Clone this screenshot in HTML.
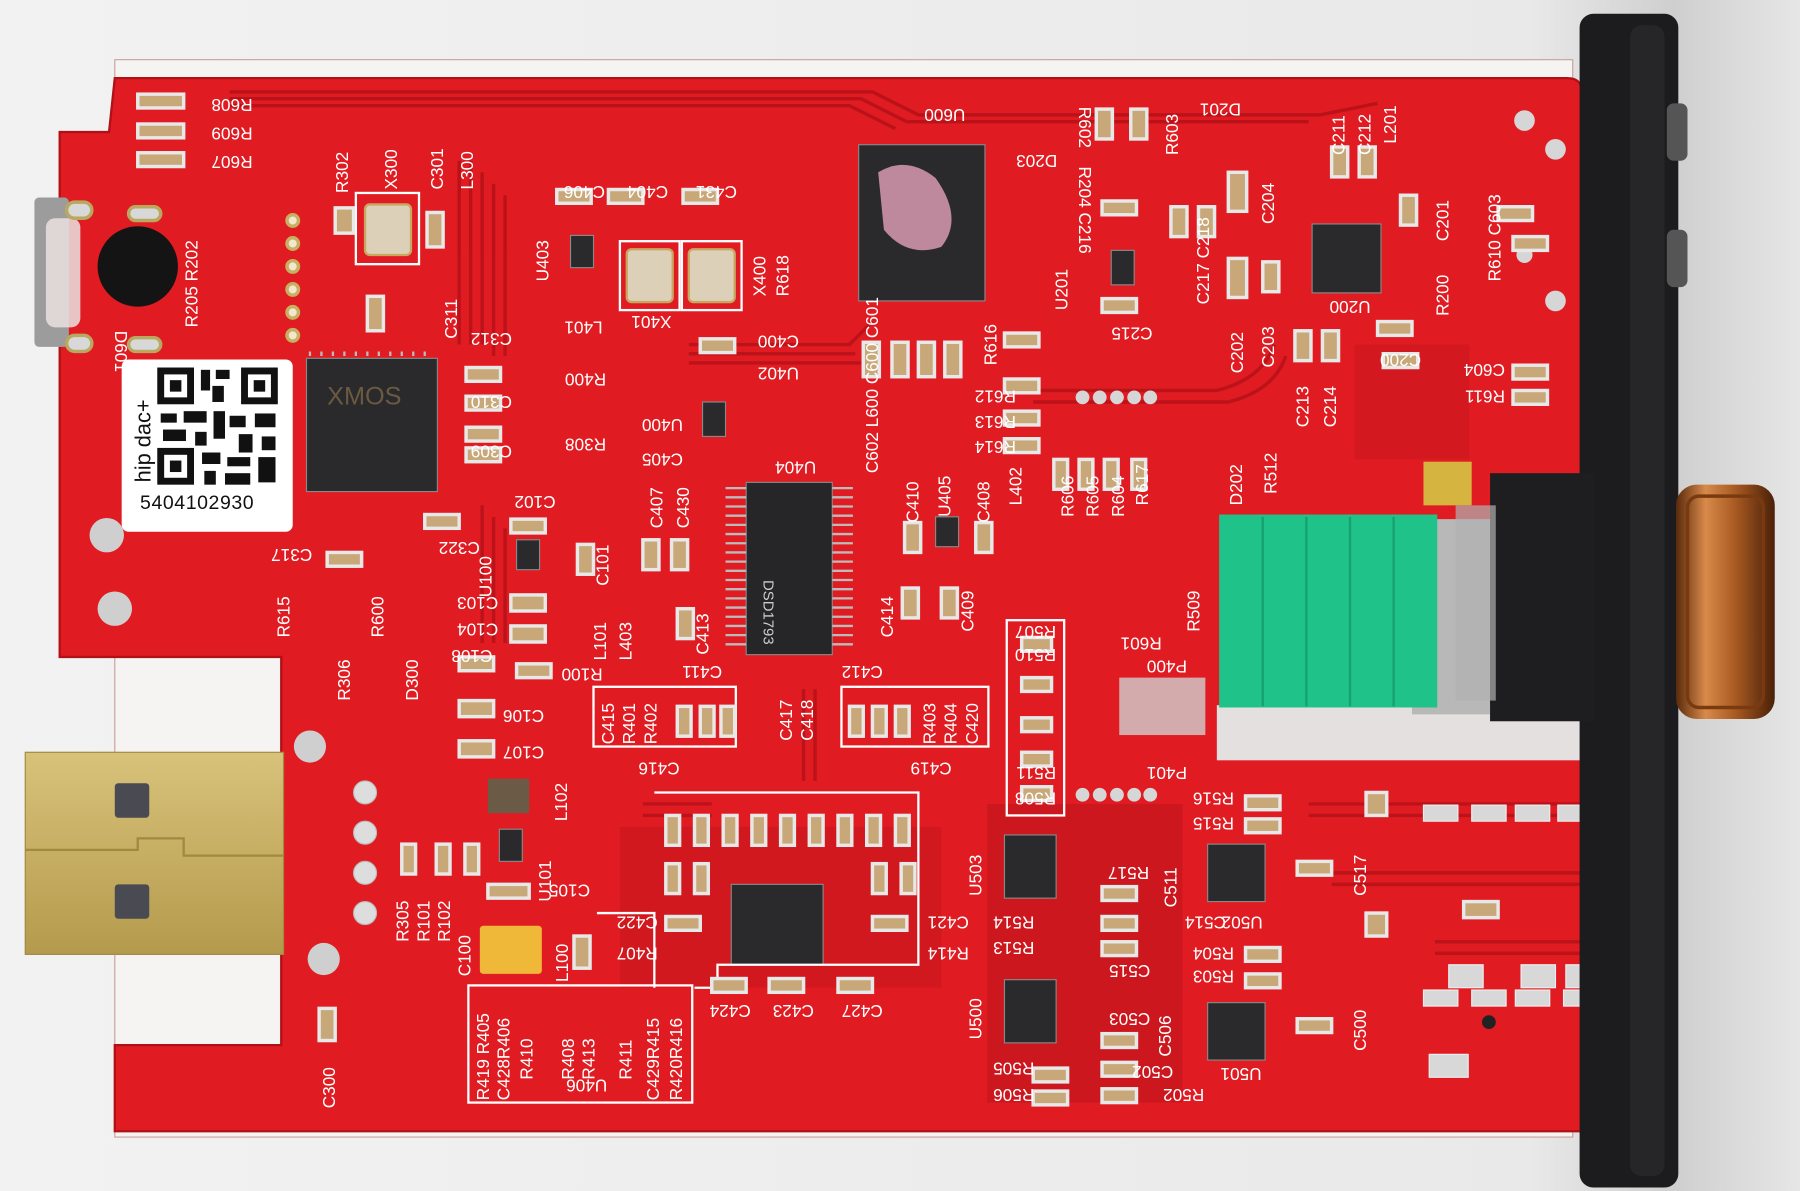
<!DOCTYPE html>
<html><head><meta charset="utf-8"><style>
html,body{margin:0;padding:0;background:#ececec;overflow:hidden}
svg{display:block}
text{font-family:"Liberation Sans",sans-serif;fill:#fff;font-size:15px}
</style></head><body>
<svg width="1800" height="1191" viewBox="0 0 1568 1037" preserveAspectRatio="none" xmlns="http://www.w3.org/2000/svg">
<defs>
<linearGradient id="bg" x1="0" x2="1"><stop offset="0" stop-color="#f2f2f2"/><stop offset="0.85" stop-color="#e9e9e9"/><stop offset="0.93" stop-color="#cfcfcf"/><stop offset="1" stop-color="#e6e6e6"/></linearGradient>
<linearGradient id="cu" x1="0" x2="1"><stop offset="0" stop-color="#5a2a0c"/><stop offset="0.3" stop-color="#d88a4a"/><stop offset="0.6" stop-color="#a85a22"/><stop offset="1" stop-color="#4a2008"/></linearGradient>
<linearGradient id="gold" x1="0" y1="0" x2="0" y2="1"><stop offset="0" stop-color="#d8c27a"/><stop offset="1" stop-color="#b49a4c"/></linearGradient>
</defs>
<rect width="1568" height="1037" fill="url(#bg)"/>
<!-- board base white edge -->
<path d="M100 52 H1370 V990 H100 Z" fill="#f6f4f2" stroke="#c9a09a"/>
<!-- red board -->
<path d="M100 68 H1365 Q1378 68 1378 80 V985 H1370 V975 H100 V910 H245 V572 H52 V115 H95 Z" fill="#dc1a20"/>
<path d="M100 68 H1365 Q1378 68 1378 80 V985 H100 V910 H245 V572 H52 V115 H95 Z" fill="#e01c22" stroke="#b01016" stroke-width="2"/>
<!-- dark trace regions -->
<g fill="none" stroke="#b8121a" stroke-width="3" opacity="0.9">
<path d="M200 80 H760 L800 100 H1150 L1200 90"/><path d="M200 86 H750 L790 106 H1140"/><path d="M200 92 H740 L780 112"/>
<path d="M400 140 V300 M410 140 V300 M420 150 V300 M430 160 V310 M440 170 V310"/>
<path d="M600 300 H740 L760 280 M600 308 H745 M600 316 H750"/>
<path d="M1110 300 Q1100 330 1060 340 H900 M1120 310 Q1110 340 1070 350 H900"/>
<path d="M1140 700 H1380 M1140 710 H1380 M1160 760 H1380 M1160 770 H1380 M1250 820 H1380 M1250 830 H1380"/>
<path d="M420 440 V560 M430 450 V560 M440 460 V560"/>
<path d="M700 600 V680 M710 600 V680 M560 700 H620 M560 710 H620"/>
</g>
<path d="M540 720 H820 V860 H540Z" fill="#c4141b" opacity="0.5"/>
<path d="M860 700 H1030 V960 H860Z" fill="#b5121a" opacity="0.45"/>
<path d="M1180 300 H1280 V400 H1180Z" fill="#c4141b" opacity="0.4"/>
<!-- USB-C at left -->
<rect x="30" y="172" width="30" height="130" rx="4" fill="#9c9c9c"/>
<rect x="40" y="190" width="30" height="95" rx="8" fill="#eae2e0" opacity="0.85"/>
<circle cx="120" cy="232" r="35" fill="#141414"/>
<!-- holes -->
<g fill="#d8d8d8" stroke="#b8a860" stroke-width="3">
<rect x="58" y="176" width="22" height="14" rx="7"/><rect x="58" y="292" width="22" height="14" rx="7"/>
<rect x="112" y="180" width="28" height="12" rx="6"/><rect x="112" y="294" width="28" height="12" rx="6"/>
</g>
<g fill="#cfcfcf"><circle cx="93" cy="466" r="15"/><circle cx="100" cy="530" r="15"/><circle cx="270" cy="650" r="14"/><circle cx="282" cy="835" r="14"/></g>
<g fill="#ddd" stroke="#bbb"><circle cx="318" cy="690" r="10"/><circle cx="318" cy="725" r="10"/><circle cx="318" cy="760" r="10"/><circle cx="318" cy="795" r="10"/></g>
<g fill="#f0e8d0" stroke="#c8b060" stroke-width="3"><circle cx="255" cy="192" r="5"/><circle cx="255" cy="212" r="5"/><circle cx="255" cy="232" r="5"/><circle cx="255" cy="252" r="5"/><circle cx="255" cy="272" r="5"/><circle cx="255" cy="292" r="5"/></g>
<g fill="#d6d6d6"><circle cx="1328" cy="105" r="9"/><circle cx="1355" cy="130" r="9"/><circle cx="1328" cy="222" r="7"/><circle cx="1355" cy="262" r="9"/><circle cx="943" cy="346" r="6"/><circle cx="958" cy="346" r="6"/><circle cx="973" cy="346" r="6"/><circle cx="988" cy="346" r="6"/><circle cx="1002" cy="346" r="6"/>
<circle cx="943" cy="692" r="6"/><circle cx="958" cy="692" r="6"/><circle cx="973" cy="692" r="6"/><circle cx="988" cy="692" r="6"/><circle cx="1002" cy="692" r="6"/></g>
<!-- USB-A -->
<rect x="22" y="655" width="225" height="176" fill="url(#gold)" stroke="#a08a40"/>
<path d="M22 740 H120 V730 H160 V745 H247" stroke="#a08a40" fill="none" stroke-width="2"/>
<rect x="100" y="682" width="30" height="30" rx="3" fill="#4a4a52"/><rect x="100" y="770" width="30" height="30" rx="3" fill="#4a4a52"/>
<!-- QR label -->
<rect x="106" y="313" width="149" height="150" rx="6" fill="#fff"/>
<g fill="#111">
<rect x="137" y="320" width="32" height="32"/><rect x="143" y="326" width="20" height="20" fill="#fff"/><rect x="148" y="331" width="10" height="10"/>
<rect x="210" y="320" width="32" height="32"/><rect x="216" y="326" width="20" height="20" fill="#fff"/><rect x="221" y="331" width="10" height="10"/>
<rect x="137" y="390" width="32" height="32"/><rect x="143" y="396" width="20" height="20" fill="#fff"/><rect x="148" y="401" width="10" height="10"/>
<rect x="175" y="322" width="8" height="18"/><rect x="188" y="322" width="12" height="8"/><rect x="185" y="336" width="10" height="14"/>
<rect x="140" y="360" width="14" height="8"/><rect x="160" y="358" width="20" height="10"/><rect x="186" y="358" width="10" height="24"/><rect x="200" y="362" width="14" height="10"/><rect x="222" y="360" width="18" height="12"/>
<rect x="142" y="374" width="20" height="10"/><rect x="170" y="376" width="10" height="12"/><rect x="208" y="378" width="12" height="16"/><rect x="228" y="380" width="12" height="12"/>
<rect x="176" y="394" width="16" height="10"/><rect x="198" y="398" width="20" height="8"/><rect x="225" y="398" width="15" height="22"/><rect x="178" y="410" width="10" height="12"/><rect x="196" y="412" width="22" height="10"/>
</g>
<text x="0" y="0" transform="translate(131 420) rotate(-90)" style="fill:#111;font-size:19px">hip dac+</text>
<text x="122" y="443" style="fill:#111;font-size:17px;letter-spacing:0.5px">5404102930</text>
<!-- chips -->
<g fill="#2a2a2c" stroke="#888" stroke-width="1">
<rect x="267" y="312" width="114" height="116"/>
<rect x="748" y="126" width="110" height="136"/>
<rect x="650" y="420" width="75" height="150" fill="#262628"/>
<rect x="637" y="770" width="80" height="70"/>
<rect x="1143" y="195" width="60" height="60"/>
<rect x="875" y="727" width="45" height="55"/><rect x="875" y="853" width="45" height="55"/>
<rect x="1052" y="735" width="50" height="50"/><rect x="1052" y="873" width="50" height="50"/>
<rect x="497" y="205" width="20" height="28"/><rect x="450" y="470" width="20" height="26"/><rect x="612" y="350" width="20" height="30"/><rect x="435" y="722" width="20" height="28"/>
<rect x="968" y="218" width="20" height="30"/><rect x="815" y="450" width="20" height="26"/>
</g>
<g stroke="#bbb" stroke-width="2">
<path d="M270 310 V306 M280 310 V306 M290 310 V306 M300 310 V306 M310 310 V306 M320 310 V306 M330 310 V306 M340 310 V306 M350 310 V306 M360 310 V306 M370 310 V306"/>
<path d="M632 425 H650 M632 433 H650 M632 441 H650 M632 449 H650 M632 457 H650 M632 465 H650 M632 473 H650 M632 481 H650 M632 489 H650 M632 497 H650 M632 505 H650 M632 513 H650 M632 521 H650 M632 529 H650 M632 537 H650 M632 545 H650 M632 553 H650 M632 561 H650"/>
<path d="M725 425 H743 M725 433 H743 M725 441 H743 M725 449 H743 M725 457 H743 M725 465 H743 M725 473 H743 M725 481 H743 M725 489 H743 M725 497 H743 M725 505 H743 M725 513 H743 M725 521 H743 M725 529 H743 M725 537 H743 M725 545 H743 M725 553 H743 M725 561 H743"/>
</g>
<path d="M765 150 Q790 135 815 155 Q840 190 820 215 Q790 225 770 200 Z" fill="#d89ab0" opacity="0.85"/>
<text x="285" y="352" style="fill:#6a5a40;font-size:22px">XMOS</text>
<text x="665" y="505" transform="rotate(90 665 505)" style="fill:#ccc;font-size:13px">DSD1793</text>
<!-- crystals -->
<rect x="310" y="168" width="55" height="62" fill="none" stroke="#fff" stroke-width="2"/><rect x="318" y="178" width="40" height="44" rx="4" fill="#ddd0b8" stroke="#c8a860" stroke-width="2"/>
<rect x="540" y="210" width="52" height="60" fill="none" stroke="#fff" stroke-width="2"/><rect x="546" y="217" width="40" height="46" rx="4" fill="#ddd0b8" stroke="#c8a860" stroke-width="2"/>
<rect x="594" y="210" width="52" height="60" fill="none" stroke="#fff" stroke-width="2"/><rect x="600" y="217" width="40" height="46" rx="4" fill="#ddd0b8" stroke="#c8a860" stroke-width="2"/>
<!-- silkscreen boxes -->
<g fill="none" stroke="#fff" stroke-width="2">
<rect x="517" y="598" width="124" height="52"/><rect x="733" y="598" width="128" height="52"/><rect x="877" y="540" width="50" height="170"/>
<path d="M570 690 H800 V840 H625 V860 H605 V860"/><rect x="408" y="858" width="195" height="102"/><path d="M520 795 H570 V860"/>
</g>
<!-- passives: generic tan caps -->
<g fill="#c8a878" stroke="#e8e8e8" stroke-width="3">
<rect x="292" y="181" width="16" height="22"/><rect x="372" y="185" width="14" height="30"/><rect x="320" y="258" width="14" height="30"/>
<rect x="406" y="320" width="30" height="12"/><rect x="406" y="345" width="30" height="12"/><rect x="406" y="372" width="30" height="12"/><rect x="406" y="390" width="30" height="12"/>
<rect x="370" y="448" width="30" height="12"/><rect x="445" y="452" width="30" height="12"/><rect x="285" y="481" width="30" height="12"/>
<rect x="485" y="165" width="30" height="12"/><rect x="530" y="165" width="30" height="12"/><rect x="595" y="165" width="30" height="12"/>
<rect x="610" y="295" width="30" height="12"/><rect x="1070" y="150" width="16" height="34"/><rect x="1070" y="225" width="16" height="34"/><rect x="1100" y="228" width="14" height="26"/>
<rect x="1160" y="128" width="14" height="26"/><rect x="1184" y="128" width="14" height="26"/><rect x="1220" y="170" width="14" height="26"/>
<rect x="1128" y="288" width="14" height="26"/><rect x="1152" y="288" width="14" height="26"/><rect x="1020" y="180" width="14" height="26"/><rect x="1044" y="180" width="14" height="26"/>
<rect x="752" y="298" width="14" height="30"/><rect x="777" y="298" width="14" height="30"/><rect x="800" y="298" width="14" height="30"/><rect x="823" y="298" width="14" height="30"/>
<rect x="788" y="455" width="14" height="26"/><rect x="850" y="455" width="14" height="26"/><rect x="786" y="512" width="14" height="26"/><rect x="820" y="512" width="14" height="26"/>
<rect x="560" y="470" width="14" height="26"/><rect x="585" y="470" width="14" height="26"/><rect x="503" y="474" width="14" height="26"/><rect x="590" y="530" width="14" height="26"/>
<rect x="445" y="518" width="30" height="14"/><rect x="445" y="545" width="30" height="14"/><rect x="400" y="610" width="30" height="14"/><rect x="400" y="645" width="30" height="14"/>
<rect x="400" y="572" width="30" height="12"/><rect x="450" y="578" width="30" height="12"/>
<rect x="1275" y="785" width="30" height="14"/><rect x="1190" y="690" width="18" height="20"/><rect x="1190" y="795" width="18" height="20"/><rect x="1130" y="750" width="30" height="12"/><rect x="1130" y="887" width="30" height="12"/>
<rect x="1305" y="180" width="30" height="12"/><rect x="1318" y="318" width="30" height="12"/><rect x="1318" y="340" width="30" height="12"/><rect x="1318" y="206" width="30" height="12"/>
<rect x="1200" y="280" width="30" height="12"/><rect x="1205" y="308" width="30" height="12"/>
<rect x="590" y="615" width="12" height="26"/><rect x="610" y="615" width="12" height="26"/><rect x="628" y="615" width="12" height="26"/>
<rect x="740" y="615" width="12" height="26"/><rect x="760" y="615" width="12" height="26"/><rect x="780" y="615" width="12" height="26"/>
<rect x="890" y="555" width="26" height="12"/><rect x="890" y="590" width="26" height="12"/><rect x="890" y="625" width="26" height="12"/><rect x="890" y="655" width="26" height="12"/><rect x="890" y="685" width="26" height="12"/>
<rect x="918" y="400" width="12" height="26"/><rect x="940" y="400" width="12" height="26"/><rect x="962" y="400" width="12" height="26"/><rect x="986" y="400" width="12" height="26"/>
<rect x="875" y="290" width="30" height="12"/><rect x="875" y="330" width="30" height="12"/><rect x="875" y="358" width="30" height="12"/><rect x="875" y="382" width="30" height="12"/>
<rect x="960" y="260" width="30" height="12"/><rect x="960" y="175" width="30" height="12"/><rect x="955" y="95" width="14" height="26"/><rect x="985" y="95" width="14" height="26"/>
<rect x="580" y="710" width="12" height="26"/><rect x="605" y="710" width="12" height="26"/><rect x="630" y="710" width="12" height="26"/><rect x="655" y="710" width="12" height="26"/><rect x="680" y="710" width="12" height="26"/><rect x="705" y="710" width="12" height="26"/><rect x="730" y="710" width="12" height="26"/><rect x="755" y="710" width="12" height="26"/><rect x="780" y="710" width="12" height="26"/>
<rect x="580" y="752" width="12" height="26"/><rect x="605" y="752" width="12" height="26"/><rect x="760" y="752" width="12" height="26"/><rect x="785" y="752" width="12" height="26"/>
<rect x="580" y="798" width="30" height="12"/><rect x="760" y="798" width="30" height="12"/><rect x="620" y="852" width="30" height="12"/><rect x="670" y="852" width="30" height="12"/><rect x="730" y="852" width="30" height="12"/>
<rect x="960" y="772" width="30" height="12"/><rect x="960" y="798" width="30" height="12"/><rect x="960" y="820" width="30" height="12"/><rect x="960" y="900" width="30" height="12"/><rect x="960" y="925" width="30" height="12"/><rect x="960" y="948" width="30" height="12"/>
<rect x="1085" y="693" width="30" height="12"/><rect x="1085" y="713" width="30" height="12"/><rect x="1085" y="825" width="30" height="12"/><rect x="1085" y="848" width="30" height="12"/>
<rect x="900" y="930" width="30" height="12"/><rect x="900" y="950" width="30" height="12"/><rect x="350" y="735" width="12" height="26"/><rect x="380" y="735" width="12" height="26"/><rect x="405" y="735" width="12" height="26"/>
<rect x="120" y="82" width="40" height="12"/><rect x="120" y="108" width="40" height="12"/><rect x="120" y="133" width="40" height="12"/>
<rect x="425" y="770" width="36" height="12"/><rect x="500" y="815" width="14" height="28"/><rect x="278" y="878" width="14" height="28"/>
</g>
<rect x="425" y="678" width="36" height="30" fill="#6a5a46"/>
<rect x="418" y="806" width="54" height="42" rx="3" fill="#f0b838"/>
<!-- pads right-bottom -->
<g fill="#d8d8d8" stroke="#eee"><rect x="1282" y="701" width="30" height="14"/><rect x="1320" y="701" width="30" height="14"/><rect x="1240" y="701" width="30" height="14"/><rect x="1357" y="701" width="20" height="14"/>
<rect x="1240" y="862" width="30" height="14"/><rect x="1282" y="862" width="30" height="14"/><rect x="1320" y="862" width="30" height="14"/><rect x="1362" y="862" width="16" height="14"/>
<rect x="1262" y="840" width="30" height="20"/><rect x="1325" y="840" width="30" height="20"/><rect x="1364" y="840" width="14" height="20"/><rect x="1245" y="918" width="34" height="20"/></g>
<circle cx="1297" cy="890" r="6" fill="#222"/>
<!-- gold pad -->
<rect x="1240" y="402" width="42" height="38" fill="#d6b440"/>
<!-- lower cutout window -->
<rect x="1060" y="614" width="322" height="48" fill="#e4e0e0"/>
<!-- green block -->
<rect x="1230" y="452" width="68" height="170" fill="#b8b8b8"/>
<rect x="1062" y="448" width="190" height="168" fill="#1fc288"/>
<g stroke="#17a070" stroke-width="2"><path d="M1100 450 V615 M1138 450 V615 M1176 450 V615 M1214 450 V615"/></g>
<!-- header pins -->
<g fill="#d0d0d0"><rect x="975" y="590" width="75" height="50" opacity="0.8"/></g>
<!-- bracket -->
<rect x="1376" y="12" width="86" height="1022" rx="12" fill="#1c1c1e"/>
<rect x="1420" y="22" width="30" height="1002" rx="10" fill="#262628"/>
<rect x="1298" y="412" width="92" height="216" fill="#1e1e20"/>
<rect x="1268" y="440" width="35" height="170" fill="#b0b0b0" opacity="0.7"/>
<rect x="1452" y="90" width="18" height="50" rx="6" fill="#555"/><rect x="1452" y="200" width="18" height="50" rx="6" fill="#555"/>
<!-- knob -->
<rect x="1460" y="422" width="86" height="204" rx="18" fill="url(#cu)"/>
<rect x="1470" y="432" width="66" height="184" rx="10" fill="none" stroke="#7a3a10" stroke-width="3"/>
<!-- labels upright -->
<g style="font-size:15px">
<text x="172" y="96" transform="rotate(180 196 91)">R608</text>
<text x="172" y="121" transform="rotate(180 196 116)">R609</text>
<text x="172" y="146" transform="rotate(180 196 141)">R607</text>
<text transform="translate(303 168) rotate(-90)">R302</text>
<text transform="translate(346 165) rotate(-90)">X300</text>
<text transform="translate(386 165) rotate(-90)">C301</text>
<text transform="translate(412 165) rotate(-90)">L300</text>
<text transform="translate(398 295) rotate(-90)">C311</text>
<text transform="translate(172 285) rotate(-90)">R205 R202</text>
<text transform="translate(100 288) rotate(90)">D601</text>
<text x="400" y="300" transform="rotate(180 423 295)">C312</text>
<text x="400" y="355" transform="rotate(180 423 350)">C310</text>
<text x="400" y="398" transform="rotate(180 423 393)">C309</text>
<text x="482" y="335" transform="rotate(180 505 330)">R400</text>
<text x="482" y="392" transform="rotate(180 505 387)">R308</text>
<text x="440" y="442" transform="rotate(180 462 437)">C102</text>
<text x="368" y="482" transform="rotate(180 393 477)">C322</text>
<text x="228" y="488" transform="rotate(180 250 483)">C317</text>
<text x="483" y="172" transform="rotate(180 505 167)">C406</text>
<text x="542" y="172" transform="rotate(180 562 167)">C404</text>
<text x="602" y="172" transform="rotate(180 622 167)">C431</text>
<text transform="translate(478 245) rotate(-90)">U403</text>
<text x="485" y="290" transform="rotate(180 505 285)">L401</text>
<text x="545" y="285" transform="rotate(180 565 280)">X401</text>
<text transform="translate(667 258) rotate(-90)">X400</text>
<text transform="translate(687 258) rotate(-90)">R618</text>
<text x="650" y="302" transform="rotate(180 673 297)">C400</text>
<text x="650" y="330" transform="rotate(180 673 325)">U402</text>
<text x="545" y="375" transform="rotate(180 570 370)">U400</text>
<text x="545" y="405" transform="rotate(180 570 400)">C405</text>
<text x="665" y="412" transform="rotate(180 688 407)">U404</text>
<text x="795" y="105" transform="rotate(180 818 100)">U600</text>
<text x="875" y="145" transform="rotate(180 898 140)">D203</text>
<text transform="translate(940 93) rotate(90)">R602</text>
<text transform="translate(940 145) rotate(90)">R204 C216</text>
<text transform="translate(930 270) rotate(-90)">U201</text>
<text transform="translate(1026 135) rotate(-90)">R603</text>
<text x="1045" y="100" transform="rotate(180 1063 95)">D201</text>
<text transform="translate(1110 195) rotate(-90)">C204</text>
<text transform="translate(1053 265) rotate(-90)">C217 C218</text>
<text x="960" y="295" transform="rotate(180 982 290)">C215</text>
<text transform="translate(1171 135) rotate(-90)">C211</text>
<text transform="translate(1194 135) rotate(-90)">C212</text>
<text transform="translate(1216 125) rotate(-90)">L201</text>
<text transform="translate(1262 210) rotate(-90)">C201</text>
<text transform="translate(1262 275) rotate(-90)">R200</text>
<text x="1150" y="272" transform="rotate(180 1172 267)">U200</text>
<text x="1192" y="318" transform="rotate(180 1215 313)">C200</text>
<text transform="translate(1307 245) rotate(-90)">R610 C603</text>
<text x="1265" y="327" transform="rotate(180 1288 322)">C604</text>
<text x="1265" y="350" transform="rotate(180 1288 345)">R611</text>
<text transform="translate(1083 325) rotate(-90)">C202</text>
<text transform="translate(1110 320) rotate(-90)">C203</text>
<text transform="translate(1140 372) rotate(-90)">C213</text>
<text transform="translate(1164 372) rotate(-90)">C214</text>
<text transform="translate(1082 440) rotate(-90)">D202</text>
<text transform="translate(1112 430) rotate(-90)">R512</text>
<text transform="translate(868 318) rotate(-90)">R616</text>
<text x="845" y="350" transform="rotate(180 865 345)">R612</text>
<text x="845" y="372" transform="rotate(180 865 367)">R613</text>
<text x="845" y="394" transform="rotate(180 865 389)">R614</text>
<text transform="translate(765 412) rotate(-90)">C602 L600 C600 C601</text>
<text transform="translate(935 450) rotate(-90)">R606</text>
<text transform="translate(957 450) rotate(-90)">R605</text>
<text transform="translate(979 450) rotate(-90)">R604</text>
<text transform="translate(1000 440) rotate(-90)">R617</text>
<text transform="translate(800 455) rotate(-90)">C410</text>
<text transform="translate(828 450) rotate(-90)">U405</text>
<text transform="translate(862 455) rotate(-90)">C408</text>
<text transform="translate(890 440) rotate(-90)">L402</text>
<text transform="translate(577 460) rotate(-90)">C407</text>
<text transform="translate(600 460) rotate(-90)">C430</text>
<text transform="translate(530 510) rotate(-90)">C101</text>
<text transform="translate(428 520) rotate(-90)">U100</text>
<text transform="translate(252 555) rotate(-90)">R615</text>
<text transform="translate(334 555) rotate(-90)">R600</text>
<text transform="translate(305 610) rotate(-90)">R306</text>
<text transform="translate(364 610) rotate(-90)">D300</text>
<text x="390" y="530" transform="rotate(180 412 525)">C103</text>
<text x="390" y="553" transform="rotate(180 412 548)">C104</text>
<text x="385" y="576" transform="rotate(180 407 571)">C108</text>
<text x="485" y="592" transform="rotate(180 505 587)">R100</text>
<text transform="translate(528 575) rotate(-90)">L101</text>
<text transform="translate(550 575) rotate(-90)">L403</text>
<text transform="translate(617 570) rotate(-90)">C413</text>
<text x="585" y="590" transform="rotate(180 607 585)">C411</text>
<text x="725" y="590" transform="rotate(180 747 585)">C412</text>
<text transform="translate(778 555) rotate(-90)">C414</text>
<text transform="translate(848 550) rotate(-90)">C409</text>
<text transform="translate(535 648) rotate(-90)">C415</text>
<text transform="translate(553 648) rotate(-90)">R401</text>
<text transform="translate(572 648) rotate(-90)">R402</text>
<text transform="translate(690 645) rotate(-90)">C417</text>
<text transform="translate(708 645) rotate(-90)">C418</text>
<text transform="translate(815 648) rotate(-90)">R403</text>
<text transform="translate(833 648) rotate(-90)">R404</text>
<text transform="translate(852 648) rotate(-90)">C420</text>
<text x="548" y="674" transform="rotate(180 570 669)">C416</text>
<text x="785" y="674" transform="rotate(180 807 669)">C419</text>
<text x="880" y="555" transform="rotate(180 900 550)">R507</text>
<text x="880" y="575" transform="rotate(180 900 570)">R510</text>
<text x="880" y="678" transform="rotate(180 900 673)">R511</text>
<text x="880" y="700" transform="rotate(180 900 695)">R508</text>
<text x="972" y="565" transform="rotate(180 992 560)">R601</text>
<text x="990" y="585" transform="rotate(180 1012 580)">P400</text>
<text x="990" y="678" transform="rotate(180 1012 673)">P401</text>
<text transform="translate(1045 550) rotate(-90)">R509</text>
<text x="1025" y="700" transform="rotate(180 1050 695)">R516</text>
<text x="1025" y="722" transform="rotate(180 1050 717)">R515</text>
<text x="430" y="628" transform="rotate(180 452 623)">C106</text>
<text x="430" y="660" transform="rotate(180 452 655)">C107</text>
<text transform="translate(494 715) rotate(-90)">L102</text>
<text transform="translate(480 785) rotate(-90)">U101</text>
<text x="470" y="780" transform="rotate(180 492 775)">C105</text>
<text transform="translate(356 820) rotate(-90)">R305</text>
<text transform="translate(374 820) rotate(-90)">R101</text>
<text transform="translate(392 820) rotate(-90)">R102</text>
<text transform="translate(410 850) rotate(-90)">C100</text>
<text transform="translate(495 855) rotate(-90)">L100</text>
<text x="527" y="808" transform="rotate(180 550 803)">C422</text>
<text x="527" y="835" transform="rotate(180 550 830)">R407</text>
<text x="800" y="808" transform="rotate(180 822 803)">C421</text>
<text x="800" y="835" transform="rotate(180 822 830)">R414</text>
<text x="610" y="885" transform="rotate(180 632 880)">C424</text>
<text x="665" y="885" transform="rotate(180 687 880)">C423</text>
<text x="725" y="885" transform="rotate(180 747 880)">C427</text>
<text transform="translate(426 958) rotate(-90)">R419 R405</text>
<text transform="translate(444 958) rotate(-90)">C428R406</text>
<text transform="translate(464 940) rotate(-90)">R410</text>
<text transform="translate(500 940) rotate(-90)">R408</text>
<text transform="translate(518 940) rotate(-90)">R413</text>
<text transform="translate(550 940) rotate(-90)">R411</text>
<text transform="translate(574 958) rotate(-90)">C429R415</text>
<text transform="translate(594 958) rotate(-90)">R420R416</text>
<text x="485" y="950" transform="rotate(180 507 945)">U406</text>
<text transform="translate(292 965) rotate(-90)">C300</text>
<text transform="translate(855 780) rotate(-90)">U503</text>
<text transform="translate(855 905) rotate(-90)">U500</text>
<text x="955" y="765" transform="rotate(180 978 760)">R517</text>
<text x="855" y="808" transform="rotate(180 878 803)">R514</text>
<text x="855" y="830" transform="rotate(180 878 825)">R513</text>
<text transform="translate(1025 790) rotate(-90)">C511</text>
<text x="1022" y="808" transform="rotate(180 1045 803)">C514</text>
<text x="1050" y="808" transform="rotate(180 1075 803)">U502</text>
<text x="1025" y="835" transform="rotate(180 1050 830)">R504</text>
<text x="1025" y="855" transform="rotate(180 1050 850)">R503</text>
<text x="958" y="850" transform="rotate(180 980 845)">C515</text>
<text x="958" y="892" transform="rotate(180 980 887)">C503</text>
<text transform="translate(1020 920) rotate(-90)">C506</text>
<text x="978" y="938" transform="rotate(180 1000 933)">C502</text>
<text x="1055" y="940" transform="rotate(180 1077 935)">U501</text>
<text x="855" y="935" transform="rotate(180 878 930)">R505</text>
<text x="855" y="958" transform="rotate(180 878 953)">R506</text>
<text x="1005" y="958" transform="rotate(180 1027 953)">R502</text>
<text transform="translate(1190 780) rotate(-90)">C517</text>
<text transform="translate(1190 915) rotate(-90)">C500</text>
</g>
</svg>
</body></html>
